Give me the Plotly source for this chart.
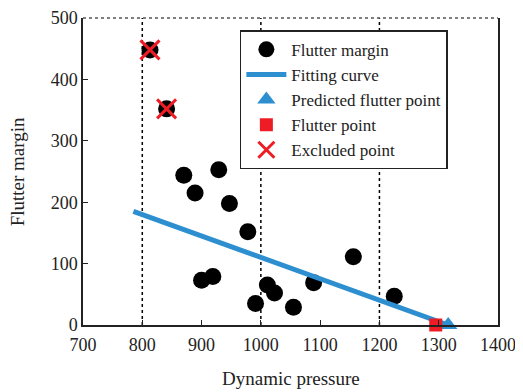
import plotly.graph_objects as go

# Data
margin_x = [813, 841, 870, 929, 889, 947, 978, 900, 919, 991, 1011, 1023, 1055, 1089, 1156, 1225]
margin_y = [448, 352, 244, 253, 215, 198, 152, 73, 79, 35, 65, 52, 29, 69, 111, 47]
fit_x = [785, 1316]
fit_y = [185, 0]
pred_x = [1316]
pred_y = [0]
flutter_x = [1295]
flutter_y = [0]
excluded_x = [813, 841]
excluded_y = [448, 352]
x_ticks = [700, 800, 900, 1000, 1100, 1200, 1300, 1400]
y_ticks = [0, 100, 200, 300, 400, 500]
grid_x = [800, 1000, 1200]

FONT = "Liberation Serif, Times New Roman, serif"
TXT = "#222222"

fig = go.Figure()
fig.add_trace(go.Scatter(x=margin_x, y=margin_y, mode="markers", name="Flutter margin",
                         marker=dict(symbol="circle", size=17, color="black")))
fig.add_trace(go.Scatter(x=fit_x, y=fit_y, mode="lines", name="Fitting curve",
                         line=dict(color="#2E8FD0", width=5)))
fig.add_trace(go.Scatter(x=pred_x, y=pred_y, mode="markers", name="Predicted flutter point",
                         marker=dict(symbol="triangle-up", size=16, color="#2E8FD0"),
                         cliponaxis=False))
fig.add_trace(go.Scatter(x=flutter_x, y=flutter_y, mode="markers", name="Flutter point",
                         marker=dict(symbol="square", size=13, color="#EE1C25"),
                         cliponaxis=False))
fig.add_trace(go.Scatter(x=excluded_x, y=excluded_y, mode="markers", name="Excluded point",
                         marker=dict(symbol="x-thin", size=19, color="#EE1C25",
                                     line=dict(color="#EE1C25", width=3))))

for gx in grid_x:
    fig.add_shape(type="line", xref="x", yref="paper", x0=gx, x1=gx, y0=0, y1=1,
                  line=dict(color="black", width=1.5, dash="dot"), layer="below")
fig.add_shape(type="line", xref="paper", yref="paper", x0=0, x1=1, y0=1, y1=1,
              line=dict(color="#555555", width=1.5, dash="dot"))

# Axis titles placed as annotations for exact positioning
fig.add_annotation(text="Dynamic pressure", xref="paper", yref="paper", x=0.5, y=-0.173,
                   xanchor="center", yanchor="middle", showarrow=False,
                   font=dict(family=FONT, size=19, color=TXT))
fig.add_annotation(text="Flutter margin", xref="paper", yref="paper", x=-0.157, y=0.5,
                   xanchor="center", yanchor="middle", showarrow=False, textangle=-90,
                   font=dict(family=FONT, size=19, color=TXT))

# The page body adds an 8px offset; the figure is sized so the plot lands where the reference has it
fig.update_layout(
    width=515, height=384,
    margin=dict(l=75, r=25, t=10, b=67),
    paper_bgcolor="white", plot_bgcolor="white",
    font=dict(family=FONT, size=19, color=TXT),
    showlegend=True,
    legend=dict(x=0.378, y=0.96, xanchor="left", yanchor="top",
                bordercolor=TXT, borderwidth=1.5, bgcolor="white",
                font=dict(family=FONT, size=17, color=TXT),
                tracegroupgap=0, itemwidth=40),
    xaxis=dict(range=[700, 1400], tickvals=x_ticks, showgrid=False, zeroline=False,
               showline=True, linecolor=TXT, linewidth=1.5, automargin=False,
               ticks="inside", ticklen=5, tickcolor=TXT, ticklabelstandoff=3,
               ticklabeloverflow="allow",
               tickfont=dict(family=FONT, size=18, color=TXT)),
    yaxis=dict(range=[0, 500], tickvals=y_ticks, showgrid=False, zeroline=False,
               showline=True, linecolor=TXT, linewidth=1.5, mirror=True, automargin=False,
               ticks="inside", ticklen=5, tickcolor=TXT, ticklabeloverflow="allow",
               tickfont=dict(family=FONT, size=18, color=TXT)),
)

fig.write_html("out.html")
